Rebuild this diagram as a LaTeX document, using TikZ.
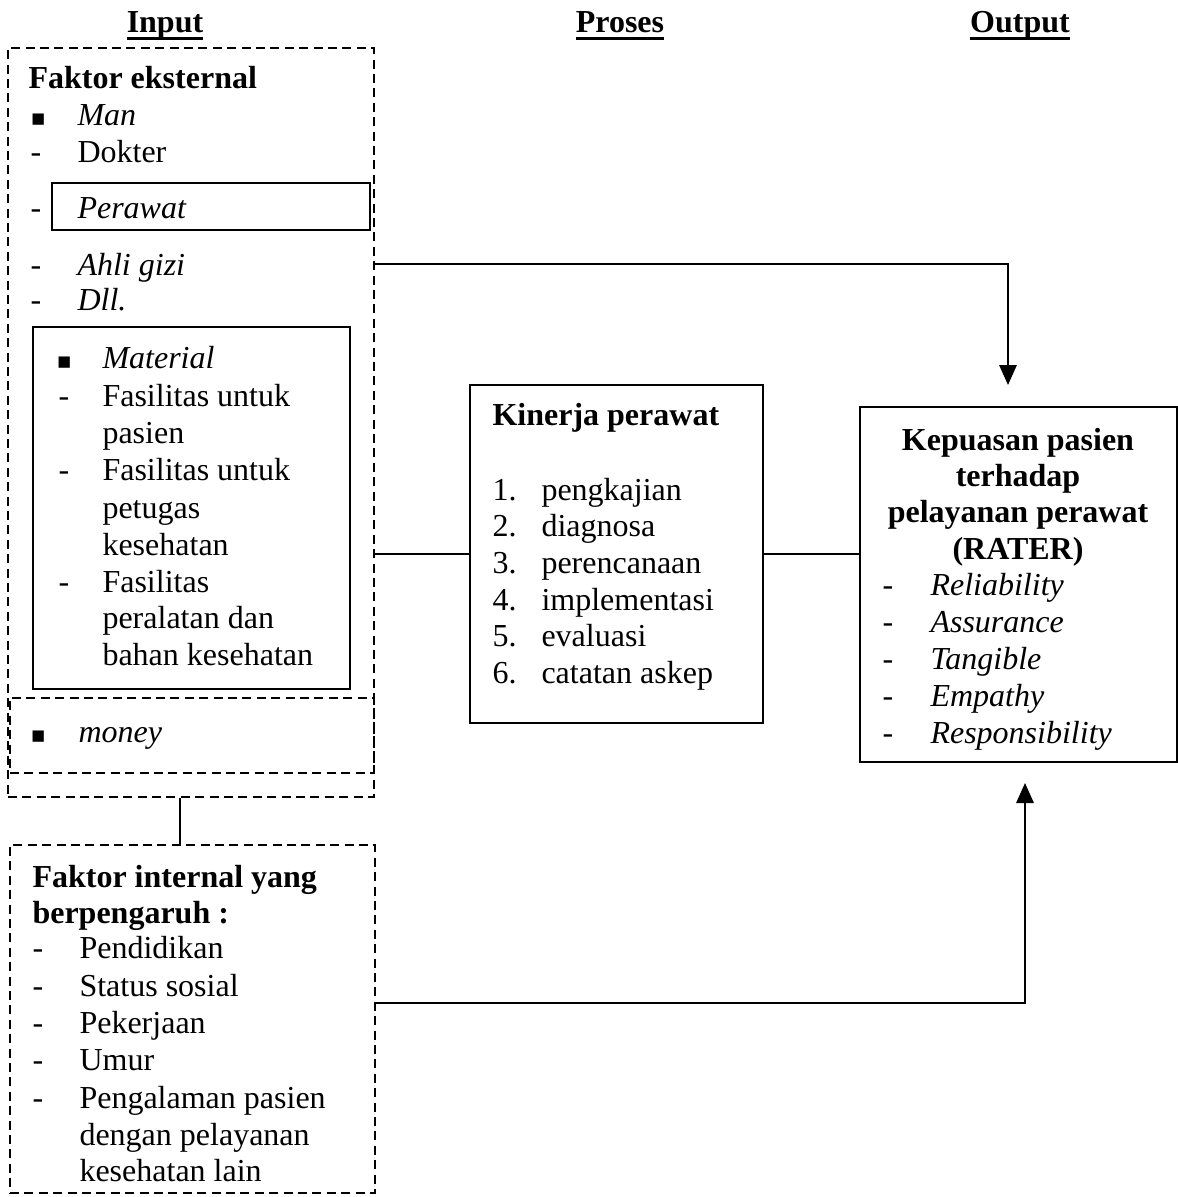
\documentclass[tikz,border=0pt]{standalone}
\usepackage{fontspec}
\setmainfont{Liberation Serif}
\newfontfamily\symfont{DejaVu Sans}
\usetikzlibrary{arrows.meta,fit}
\newcommand\txl[4]{\node[txt] (#1) at (#2,#3) {#4};}
\newcommand\sqb{{\symfont\fontsize{8.5pt}{9pt}\selectfont ▪}}
\newcommand\thul[1]{\setbox0\hbox{#1}\rlap{\rule[-3pt]{\wd0}{1pt}}\box0}
\tikzset{
  txt/.style={anchor=west, inner sep=0pt, font=\fontsize{12pt}{14pt}\selectfont, text height=8pt, text depth=2pt, yshift=-1pt},
  ctxt/.style={txt, anchor=center},
  hd/.style={anchor=center, inner sep=0pt, font=\fontsize{12pt}{14pt}\selectfont\bfseries, text height=8pt, text depth=2pt},
  dbox/.style={draw, line width=0.8pt, dash pattern=on 3.4pt off 2pt, inner sep=0pt},
  sbox/.style={draw, line width=0.9pt, inner sep=0pt},
  conn/.style={draw, line width=0.8pt},
  arr/.style={conn, -{Triangle[width=6.5pt,length=7.5pt]}}
}
\begin{document}
\begin{tikzpicture}[x=0.375pt,y=-0.375pt]
\useasboundingbox (0,0) rectangle (1178,1197);
% headings
\node[hd] (hin) at (165,24) {\thul{Input}};
\node[hd] (hpr) at (620,24) {\thul{Proses}};
\node[hd] (hout) at (1020,24) {\thul{Output}};

% boxes
\node[dbox, fit={(8,48) (374,797)}] (ext) {};
\node[sbox, fit={(52,183) (370,230)}] (perb) {};
\node[sbox, fit={(33,327) (350,689)}] (matb) {};
\node[dbox, fit={(10,698) (374,773)}] (monb) {};
\node[dbox, fit={(10,845) (375,1193)}] (int) {};
\node[sbox, fit={(470,385) (763,723)}] (kin) {};
\node[sbox, fit={(860,407) (1177,762)}] (kep) {};

% Faktor eksternal
\txl{fe}{28}{78}{\textbf{Faktor eksternal}}
\txl{b1}{30}{115}{\sqb}
\txl{man}{77}{115}{\textit{Man}}
\txl{d1}{30}{152}{-}
\txl{dok}{77}{152}{Dokter}
\txl{d2}{30}{208}{-}
\txl{per}{77}{208}{\textit{Perawat}}
\txl{d3}{30}{265}{-}
\txl{ahli}{77}{265}{\textit{Ahli gizi}}
\txl{d4}{30}{300}{-}
\txl{dll}{77}{300}{\textit{Dll.}}
% Material
\txl{b2}{56}{358}{\sqb}
\txl{mat}{102}{358}{\textit{Material}}
\txl{d5}{58}{396}{-}
\txl{m1}{102}{396}{Fasilitas untuk}
\txl{m2}{102}{433}{pasien}
\txl{d6}{58}{470}{-}
\txl{m3}{102}{470}{Fasilitas untuk}
\txl{m4}{102}{508}{petugas}
\txl{m5}{102}{545}{kesehatan}
\txl{d7}{58}{582}{-}
\txl{m6}{102}{582}{Fasilitas}
\txl{m7}{102}{618}{peralatan dan}
\txl{m8}{102}{655}{bahan kesehatan}
% money
\txl{b3}{30}{732}{\sqb}
\txl{mon}{78}{732}{\textit{money}}

% Faktor internal
\txl{fi1}{32}{877}{\textbf{Faktor internal yang}}
\txl{fi2}{32}{913}{\textbf{berpengaruh :}}
\txl{e1}{32}{948}{-}
\txl{i1}{79}{948}{Pendidikan}
\txl{e2}{32}{986}{-}
\txl{i2}{79}{986}{Status sosial}
\txl{e3}{32}{1023}{-}
\txl{i3}{79}{1023}{Pekerjaan}
\txl{e4}{32}{1060}{-}
\txl{i4}{79}{1060}{Umur}
\txl{e5}{32}{1098}{-}
\txl{i5}{79}{1098}{Pengalaman pasien}
\txl{i6}{79}{1135}{dengan pelayanan}
\txl{i7}{79}{1171}{kesehatan lain}

% Kinerja perawat
\txl{kt}{492}{415}{\textbf{Kinerja perawat}}
\txl{n1}{492}{490}{1.}
\txl{k1}{541}{490}{pengkajian}
\txl{n2}{492}{526}{2.}
\txl{k2}{541}{526}{diagnosa}
\txl{n3}{492}{563}{3.}
\txl{k3}{541}{563}{perencanaan}
\txl{n4}{492}{600}{4.}
\txl{k4}{541}{600}{implementasi}
\txl{n5}{492}{636}{5.}
\txl{k5}{541}{636}{evaluasi}
\txl{n6}{492}{673}{6.}
\txl{k6}{541}{673}{catatan askep}

% Kepuasan
\node[ctxt] (q1) at (1018,440) {\textbf{Kepuasan pasien}};
\node[ctxt] (q2) at (1018,476) {\textbf{terhadap}};
\node[ctxt] (q3) at (1018,512) {\textbf{pelayanan perawat}};
\node[ctxt] (q4) at (1018,549) {\textbf{(RATER)}};
\txl{r1}{882}{585}{-}
\txl{rr1}{930}{585}{\textit{Reliability}}
\txl{r2}{882}{622}{-}
\txl{rr2}{930}{622}{\textit{Assurance}}
\txl{r3}{882}{659}{-}
\txl{rr3}{930}{659}{\textit{Tangible}}
\txl{r4}{882}{696}{-}
\txl{rr4}{930}{696}{\textit{Empathy}}
\txl{r5}{882}{733}{-}
\txl{rr5}{930}{733}{\textit{Responsibility}}

% connectors
\coordinate (arr1) at (1008,385);
\coordinate (arr2) at (1025,783);
\coordinate (j1) at (180,0);
\coordinate (j2) at (0,1003);
\coordinate (j3) at (0,264);
\path[arr] (ext.east |- j3) -| (arr1);
\path[conn] (ext.east |- kin.west) -- (kin.west);
\path[conn] (kin.east) -- (kep.west |- kin.east);
\path[conn] (ext.south -| j1) -- (int.north -| j1);
\path[arr] (int.east |- j2) -| (arr2);
\end{tikzpicture}
\end{document}
